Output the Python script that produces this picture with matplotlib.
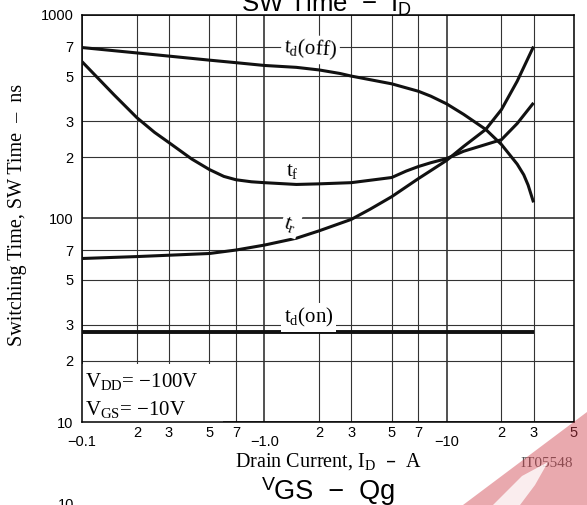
import matplotlib
matplotlib.use('Agg')
import matplotlib.pyplot as plt
from matplotlib.patches import Rectangle, Polygon

plt.rcParams['font.family'] = ['Liberation Sans', 'DejaVu Sans']

# values (drain current magnitude in A, time in ns)
id_off = [0.1, 0.2, 0.3, 0.5, 0.7, 1.0, 1.5, 2, 2.6, 3, 5, 7, 8.2, 10, 12.4, 16.4, 20, 24.4, 26.5, 28, 30]
td_off = [692, 651, 628, 600, 583, 565, 553, 537, 516, 501, 459, 422, 399, 366, 325, 274, 231, 185, 164, 146, 120]

id_f = [0.1, 0.15, 0.2, 0.25, 0.3, 0.4, 0.5, 0.6, 0.7, 0.85, 1.0, 1.5, 2, 3, 5, 6, 7, 8.2, 10,
        12.4, 16.4, 20, 24.4, 30]
tf = [590, 405, 313, 265, 236, 196, 174, 161, 155, 151.5, 150, 147, 148, 150, 159, 171, 180, 188, 197,
      214, 231, 244, 293, 370]

id_r = [0.1, 0.2, 0.3, 0.5, 0.7, 1.0, 1.5, 2, 3, 3.8, 5, 7, 8.2, 10, 12.4, 16.4, 20, 24.4, 30]
tr = [63.6, 65, 66, 67.3, 70, 74, 80, 87, 99, 111, 128, 157, 172, 193, 226, 274, 343, 473, 700]

id_on = [0.1, 30]
td_on = [27.6, 27.6]

x_major = [0.1, 1, 10]
x_major_labels = ['\u22120.1', '\u22121.0', '\u221210']
x_minor = [0.2, 0.3, 0.5, 0.7, 2, 3, 5, 7, 20, 30, 50]
x_minor_labels = ['2', '3', '5', '7', '2', '3', '5', '7', '2', '3', '5']
y_major = [10, 100, 1000]
y_major_labels = ['10', '100', '1000']
y_minor = [20, 30, 50, 70, 200, 300, 500, 700]
y_minor_labels = ['2', '3', '5', '7', '2', '3', '5', '7']

W, H = 587, 505


def fx(px):
    return px / W


def fy(py):
    return 1 - py / H


fig = plt.figure(figsize=(W / 100, H / 100), dpi=100)
ax = fig.add_axes([fx(82), fy(422), (574 - 82) / W, (422 - 15) / H])
ax.set_xscale('log')
ax.set_yscale('log')
ax.set_xlim(0.1, 50)
ax.set_ylim(10, 1000)

ax.set_xticks(x_major, x_major_labels)
ax.set_xticks(x_minor, x_minor_labels, minor=True)
ax.set_yticks(y_major, y_major_labels)
ax.set_yticks(y_minor, y_minor_labels, minor=True)
ax.tick_params(axis='x', which='major', length=0, pad=9.5, labelsize=10.5)
ax.tick_params(axis='x', which='minor', length=0, pad=3, labelsize=10.5)
ax.tick_params(axis='y', which='both', length=0, pad=6, labelsize=10.5)

ax.set_axisbelow(True)
ax.grid(True, which='major', color='#222222', lw=1.1)
ax.grid(True, which='minor', color='#333333', lw=0.8)
for s in ax.spines.values():
    s.set_linewidth(1.1)

# white patch behind the conditions note
ax.add_patch(Rectangle((0.1, 10), 0.49, 9.3, facecolor='white', edgecolor='none', zorder=1.5))

ax.plot(id_off, td_off, color='#111111', lw=2.2, solid_capstyle='butt', zorder=3)
ax.plot(id_f, tf, color='#111111', lw=2.2, solid_capstyle='butt', zorder=3)
ax.plot(id_r, tr, color='#111111', lw=2.2, solid_capstyle='butt', zorder=3)
ax.plot(id_on, td_on, color='#111111', lw=2.8, solid_capstyle='butt', zorder=3)

serif = 'Liberation Serif'
box = dict(facecolor='white', edgecolor='none', pad=2)
ax.text(1.79, 678, r'$\mathregular{t_d(off)}$', family=serif, fontsize=15,
        ha='center', va='center', rotation=-4, bbox=box, zorder=4)
ax.text(1.42, 170, r'$\mathregular{t_f}$', family=serif, fontsize=15,
        ha='center', va='center', bbox=dict(facecolor='white', edgecolor='none', pad=0.5), zorder=4)
ax.text(1.39, 93, r'$\mathregular{t_r}$', family=serif, fontsize=15,
        ha='center', va='center', rotation=-18, bbox=box, zorder=4)
ax.text(1.75, 32.6, r'$\mathregular{t_d(on)}$', family=serif, fontsize=15,
        ha='center', va='center', bbox=box, zorder=4)

fig.text(fx(85), fy(387), r'$\mathregular{V_{DD}}$' + '= \u2212100V', family=serif,
         fontsize=15, va='baseline')
fig.text(fx(85), fy(415), r'$\mathregular{V_{GS}}$' + '= \u221210V', family=serif,
         fontsize=15, va='baseline')

fig.text(fx(18), fy(215), 'Switching Time, SW Time  \u2013  ns', family=serif, fontsize=14.5,
         rotation=90, ha='center', va='center')
fig.text(fx(328), fy(467), 'Drain Current, ' + r'$\mathregular{I_D}$' + '  \u2013  A',
         family=serif, fontsize=14.5, ha='center', va='baseline')
fig.text(fx(573), fy(467), 'IT05548', family=serif, fontsize=11, color='#555555',
         ha='right', va='baseline')

# neighbouring chart titles cut by the crop
fig.text(fx(327), fy(11.5), 'SW Time  \u2212  ' + r'$\mathregular{I_D}$', fontsize=18.5,
         ha='center', va='baseline')
fig.text(fx(262), fy(490), 'V', fontsize=14, va='baseline')
fig.text(fx(274), fy(499), 'GS  \u2212  Qg', fontsize=19.5, va='baseline')
fig.text(fx(66), fy(509), '10', fontsize=10.5, ha='center', va='baseline')

# pink watermark in the lower right corner
wm = Polygon([(fx(463), fy(505)), (fx(587), fy(412)), (fx(587), fy(505))],
             closed=True, facecolor='#D0404C', edgecolor='none', alpha=0.45,
             transform=fig.transFigure, zorder=10)
fig.add_artist(wm)
notch = Polygon([(fx(493), fy(505)), (fx(522), fy(476)), (fx(548), fy(462)),
                 (fx(535), fy(485)), (fx(520), fy(505))],
                closed=True, facecolor='white', edgecolor='none', alpha=0.8,
                transform=fig.transFigure, zorder=11)
fig.add_artist(notch)

fig.savefig('out.png', dpi=100)
